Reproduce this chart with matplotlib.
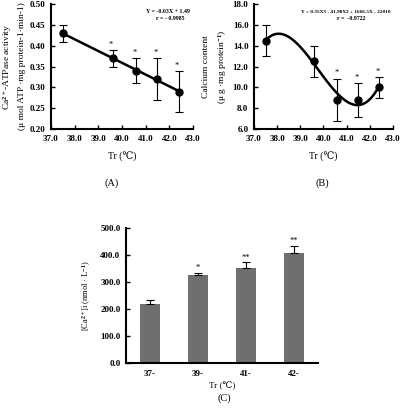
import numpy as np
import matplotlib
matplotlib.use("Agg")
import matplotlib.pyplot as plt

plt.rcParams['font.family'] = ['Liberation Serif', 'DejaVu Serif']
plt.rcParams['font.weight'] = 'bold'
plt.rcParams['mathtext.fontset'] = 'custom'
plt.rcParams['mathtext.rm'] = 'Liberation Serif:bold'
plt.rcParams['mathtext.bf'] = 'Liberation Serif:bold'
plt.rcParams['mathtext.it'] = 'Liberation Serif:bold'

# Panel A data
tr_a = [37.5, 39.6, 40.6, 41.5, 42.4]
atpase = [0.43, 0.37, 0.34, 0.32, 0.29]
atpase_err = [0.02, 0.02, 0.03, 0.05, 0.05]
atpase_sig = ['', '*', '*', '*', '*']

# Panel B data
calcium = [14.5, 12.5, 8.8, 8.8, 10.0]
calcium_err = [1.5, 1.5, 2.05, 1.6, 1.0]
calcium_sig = ['', '', '*', '*', '*']

# Panel C data
groups = ['37-', '39-', '41-', '42-']
cai = [218, 325, 353, 408]
cai_err = [17, 10, 20, 27]
cai_sig = ['', '*', '**', '**']

fig = plt.figure(figsize=(4.0, 4.11), dpi=100)

def style(ax):
    for s in ['top', 'right']:
        ax.spines[s].set_visible(False)
    for s in ['left', 'bottom']:
        ax.spines[s].set_linewidth(1.5)
    ax.tick_params(direction='in', length=3, width=1, labelsize=6.5, pad=4)

# ---- A
axA = fig.add_axes([0.1275, 0.686, 0.355, 0.304])
xs = np.array(tr_a)
p = np.polyfit(xs, atpase, 1)
xx = np.linspace(xs.min(), xs.max(), 100)
axA.plot(xx, np.polyval(p, xx), color='black', lw=1.8)
axA.errorbar(tr_a, atpase, yerr=atpase_err, fmt='o', color='black', ms=5,
             capsize=3, elinewidth=0.8, capthick=0.8)
for x, y, e, s in zip(tr_a, atpase, atpase_err, atpase_sig):
    if s:
        axA.text(x - 0.08, y + e + 0.003, s, ha='center', va='bottom', fontsize=6,
                 fontweight='normal')
axA.set_xlim(37, 43)
axA.set_ylim(0.2, 0.5)
axA.set_xticks(np.arange(37, 43.1, 1))
axA.set_xticklabels([f'{v:.1f}' for v in np.arange(37, 43.1, 1)])
axA.set_yticks(np.arange(0.2, 0.501, 0.05))
axA.set_yticklabels([f'{v:.2f}' for v in np.arange(0.2, 0.501, 0.05)])
style(axA)
axA.set_xlabel('Tr (\u2103)', fontsize=7, labelpad=7)
axA.set_ylabel('Ca$^{2+}$-ATPase activity\n(\u03bc mol ATP \u00b7mg protein-1\u00b7min-1)',
               fontsize=6.8, labelpad=3, linespacing=1.6)
axA.text(0.82, 0.93, 'Y = -0.03X + 1.49', transform=axA.transAxes, fontsize=4.2, ha='center')
axA.text(0.84, 0.875, 'r = - 0.9985', transform=axA.transAxes, fontsize=4.2, ha='center')
fig.text(0.28, 0.555, '(A)', ha='center', va='center', fontsize=7.5, fontweight='normal')

# ---- B
axB = fig.add_axes([0.635, 0.686, 0.3475, 0.304])
p3 = np.polyfit(xs, calcium, 3)
axB.plot(xx, np.polyval(p3, xx), color='black', lw=1.8)
axB.errorbar(tr_a, calcium, yerr=calcium_err, fmt='o', color='black', ms=5,
             capsize=3, elinewidth=0.8, capthick=0.8)
for x, y, e, s in zip(tr_a, calcium, calcium_err, calcium_sig):
    if s:
        axB.text(x - 0.05, y + e + 0.15, s, ha='center', va='bottom', fontsize=6,
                 fontweight='normal')
axB.set_xlim(37, 43)
axB.set_ylim(6, 18)
axB.set_xticks(np.arange(37, 43.1, 1))
axB.set_xticklabels([f'{v:.1f}' for v in np.arange(37, 43.1, 1)])
axB.set_yticks(np.arange(6, 18.1, 2))
axB.set_yticklabels([f'{v:.1f}' for v in np.arange(6, 18.1, 2)])
style(axB)
axB.set_xlabel('Tr (\u2103)', fontsize=7, labelpad=7)
axB.set_ylabel('Calcium content\n(\u03bc g \u00b7mg protein$^{-1}$)', fontsize=6.8,
               labelpad=3, linespacing=1.6)
axB.text(0.66, 0.93, 'Y = 0.35X3 - 41.98X2 + 1666.5X - 22010', transform=axB.transAxes,
         fontsize=3.8, ha='center')
axB.text(0.70, 0.875, 'r =  -0.9722', transform=axB.transAxes, fontsize=4.2, ha='center')
fig.text(0.805, 0.555, '(B)', ha='center', va='center', fontsize=7.5, fontweight='normal')

# ---- C
axC = fig.add_axes([0.315, 0.1168, 0.48, 0.3285])
pos = np.arange(len(groups))
axC.bar(pos, cai, width=0.4, color='#6f6f6f', zorder=2)
axC.errorbar(pos, cai, yerr=[np.zeros(len(cai)), cai_err], fmt='none', ecolor='black',
             capsize=3, elinewidth=0.8, capthick=0.8, zorder=3)
for x, y, e, s in zip(pos, cai, cai_err, cai_sig):
    if s:
        axC.text(x, y + e + 3, s, ha='center', va='bottom', fontsize=6, fontweight='normal')
axC.set_xlim(-0.5, 3.5)
axC.set_ylim(0, 500)
axC.set_xticks(pos)
axC.set_xticklabels(groups)
axC.set_yticks(np.arange(0, 501, 100))
axC.set_yticklabels([f'{v:.1f}' for v in np.arange(0, 501, 100)])
style(axC)
axC.tick_params(axis='x', length=0, pad=5)
axC.set_xlabel('Tr (\u2103)', fontsize=6.5, labelpad=3, fontweight='normal')
axC.set_ylabel('[Ca$^{2+}$]i (nmol \u00b7 L$^{-1}$)', fontsize=6, labelpad=5)
fig.text(0.56, 0.03, '(C)', ha='center', va='center', fontsize=7.5, fontweight='normal')

fig.savefig('out.png', dpi=100)
